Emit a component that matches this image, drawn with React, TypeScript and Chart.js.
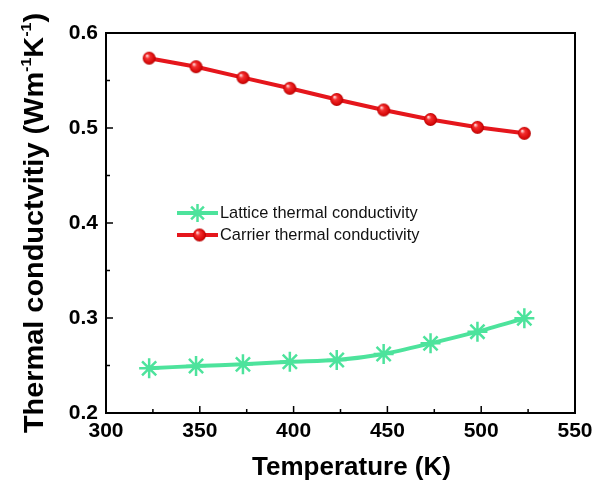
import React, { useEffect, useRef } from 'react';
import { Chart, registerables } from 'chart.js';

Chart.register(...registerables);

const temperatures = [323, 348, 373, 398, 423, 448, 473, 498, 523];
const latticeK = [0.247, 0.2495, 0.2512, 0.254, 0.2558, 0.2621, 0.2733, 0.2856, 0.2997];
const carrierK = [0.5735, 0.5645, 0.553, 0.5418, 0.53, 0.519, 0.509, 0.5007, 0.4944];
const xTicks = [300, 350, 400, 450, 500, 550];
const xMinorTicks = [325, 375, 425, 475, 525];
const yTicks = [0.2, 0.3, 0.4, 0.5, 0.6];
const yMinorTicks = [0.25, 0.35, 0.45, 0.55];
const seriesLabels = ['Lattice thermal conductivity', 'Carrier thermal conductivity'];
const xTitle = 'Temperature (K)';
// y title pieces: [text, isSuperscript]
const yTitleParts: [string, boolean][] = [
  ['Thermal conductvitiy (Wm', false],
  ['-1', true],
  ['K', false],
  ['-1', true],
  [')', false],
];

const GREEN = '#4de39c';
const RED = '#e5161c';
const FONT = '"Liberation Sans", Arial, sans-serif';

function makeBall(r: number): HTMLCanvasElement {
  const c = document.createElement('canvas');
  const s = Math.ceil(r * 2 + 2);
  c.width = s;
  c.height = s;
  const ctx = c.getContext('2d')!;
  const cx = s / 2;
  const g = ctx.createRadialGradient(cx - r * 0.35, cx - r * 0.4, r * 0.08, cx, cx, r);
  g.addColorStop(0, '#ffd0d0');
  g.addColorStop(0.3, '#f43030');
  g.addColorStop(0.8, '#d80a0a');
  g.addColorStop(1, '#b00000');
  ctx.fillStyle = g;
  ctx.beginPath();
  ctx.arc(cx, cx, r, 0, Math.PI * 2);
  ctx.fill();
  return c;
}

export default function App() {
  const ref = useRef<HTMLCanvasElement | null>(null);

  useEffect(() => {
    const canvas = ref.current;
    if (!canvas) return;
    const ball = makeBall(6.5);

    const framePlugin = {
      id: 'frameTicks',
      afterDatasetsDraw(chart: any) {
        const { ctx, chartArea: a, scales } = chart;
        const xs = scales.x;
        const ys = scales.y;
        ctx.save();
        ctx.strokeStyle = '#000';
        ctx.lineWidth = 2;
        ctx.strokeRect(a.left, a.top, a.right - a.left, a.bottom - a.top);
        ctx.lineWidth = 1.5;
        ctx.beginPath();
        const major = 7;
        const minor = 4;
        xTicks.forEach((v) => {
          const px = xs.getPixelForValue(v);
          ctx.moveTo(px, a.bottom);
          ctx.lineTo(px, a.bottom - major);
        });
        xMinorTicks.forEach((v) => {
          const px = xs.getPixelForValue(v);
          ctx.moveTo(px, a.bottom);
          ctx.lineTo(px, a.bottom - minor);
        });
        yTicks.forEach((v) => {
          const py = ys.getPixelForValue(v);
          ctx.moveTo(a.left, py);
          ctx.lineTo(a.left + major, py);
        });
        yMinorTicks.forEach((v) => {
          const py = ys.getPixelForValue(v);
          ctx.moveTo(a.left, py);
          ctx.lineTo(a.left + minor, py);
        });
        ctx.stroke();

        // legend
        const lx0 = a.left + 71;
        const lx1 = a.left + 112;
        const rows = [a.top + 180, a.top + 202];
        ctx.lineCap = 'butt';
        ctx.strokeStyle = GREEN;
        ctx.lineWidth = 4;
        ctx.beginPath();
        ctx.moveTo(lx0, rows[0]);
        ctx.lineTo(lx1, rows[0]);
        ctx.stroke();
        const sx = (lx0 + lx1) / 2;
        const r = 9;
        ctx.lineWidth = 2.5;
        ctx.beginPath();
        for (let k = 0; k < 4; k++) {
          const ang = (k * Math.PI) / 4;
          ctx.moveTo(sx - Math.cos(ang) * r, rows[0] - Math.sin(ang) * r);
          ctx.lineTo(sx + Math.cos(ang) * r, rows[0] + Math.sin(ang) * r);
        }
        ctx.stroke();
        ctx.strokeStyle = RED;
        ctx.lineWidth = 4;
        ctx.beginPath();
        ctx.moveTo(lx0, rows[1]);
        ctx.lineTo(lx1, rows[1]);
        ctx.stroke();
        ctx.drawImage(ball, sx - ball.width / 2 + 2, rows[1] - ball.height / 2);
        ctx.fillStyle = '#111';
        ctx.font = `16.4px ${FONT}`;
        ctx.textBaseline = 'middle';
        ctx.textAlign = 'left';
        ctx.fillText(seriesLabels[0], lx1 + 2, rows[0]);
        ctx.fillText(seriesLabels[1], lx1 + 2, rows[1]);
        ctx.restore();
      },
      afterDraw(chart: any) {
        const { ctx, chartArea: a } = chart;
        ctx.save();
        // x-axis title
        ctx.fillStyle = '#000';
        ctx.font = `bold 26px ${FONT}`;
        ctx.textAlign = 'center';
        ctx.textBaseline = 'middle';
        ctx.fillText(xTitle, (a.left + a.right) / 2 + 11, 468);

        // rotated y-axis title with superscripts
        const mainFont = `bold 27px ${FONT}`;
        const supFont = `bold 15px ${FONT}`;
        const stretch = 1.07;
        let total = 0;
        const widths = yTitleParts.map(([t, sup]) => {
          ctx.font = sup ? supFont : mainFont;
          const w = ctx.measureText(t).width;
          total += w;
          return w;
        });
        const cy = (a.top + a.bottom) / 2;
        ctx.translate(43, cy);
        ctx.rotate(-Math.PI / 2);
        ctx.scale(stretch, 1);
        ctx.textBaseline = 'alphabetic';
        ctx.textAlign = 'left';
        let x = -total / 2;
        yTitleParts.forEach(([t, sup], i) => {
          ctx.font = sup ? supFont : mainFont;
          ctx.fillText(t, x, sup ? -12 : 0);
          x += widths[i];
        });
        ctx.restore();
      },
    };

    const chart = new Chart(canvas, {
      type: 'line',
      data: {
        datasets: [
          {
            label: seriesLabels[0],
            data: temperatures.map((t, i) => ({ x: t, y: latticeK[i] })),
            borderColor: GREEN,
            backgroundColor: GREEN,
            borderWidth: 4,
            tension: 0.25,
            pointStyle: 'star',
            pointRadius: 10,
            pointBorderWidth: 2.5,
            pointBorderColor: GREEN,
          },
          {
            label: seriesLabels[1],
            data: temperatures.map((t, i) => ({ x: t, y: carrierK[i] })),
            borderColor: RED,
            backgroundColor: RED,
            borderWidth: 4,
            tension: 0,
            pointStyle: ball,
            pointRadius: 6.5,
          },
        ],
      },
      options: {
        animation: false,
        responsive: false,
        devicePixelRatio: 1,
        layout: { padding: { top: 33, right: 20, left: 0, bottom: 0 } },
        plugins: { legend: { display: false }, tooltip: { enabled: false } },
        scales: {
          x: {
            type: 'linear',
            min: 300,
            max: 550,
            afterBuildTicks: (s: any) => {
              s.ticks = xTicks.map((v) => ({ value: v }));
            },
            afterFit: (s: any) => {
              s.height = 74;
              s.paddingLeft = 0;
              s.paddingRight = 0;
            },
            grid: { display: false, drawTicks: false, tickLength: 0 },
            border: { display: false },
            ticks: {
              color: '#000',
              padding: 6,
              maxRotation: 0,
              font: { family: FONT, size: 21, weight: 'bold' },
              callback: (v: any) => String(v),
            },
            title: { display: false },
          },
          y: {
            type: 'linear',
            min: 0.2,
            max: 0.6,
            afterBuildTicks: (s: any) => {
              s.ticks = yTicks.map((v) => ({ value: v }));
            },
            afterFit: (s: any) => {
              s.width = 106;
              s.paddingTop = 0;
              s.paddingBottom = 0;
            },
            grid: { display: false, drawTicks: false, tickLength: 0 },
            border: { display: false },
            ticks: {
              color: '#000',
              padding: 8,
              font: { family: FONT, size: 21, weight: 'bold' },
              callback: (v: any) => Number(v).toFixed(1),
            },
            title: { display: false },
          },
        },
      },
      plugins: [framePlugin],
    } as any);

    return () => chart.destroy();
  }, []);

  return (
    <div style={{ position: 'absolute', left: 0, top: 0, width: 595, height: 487, background: '#fff' }}>
      <canvas ref={ref} width={595} height={487} />
    </div>
  );
}
